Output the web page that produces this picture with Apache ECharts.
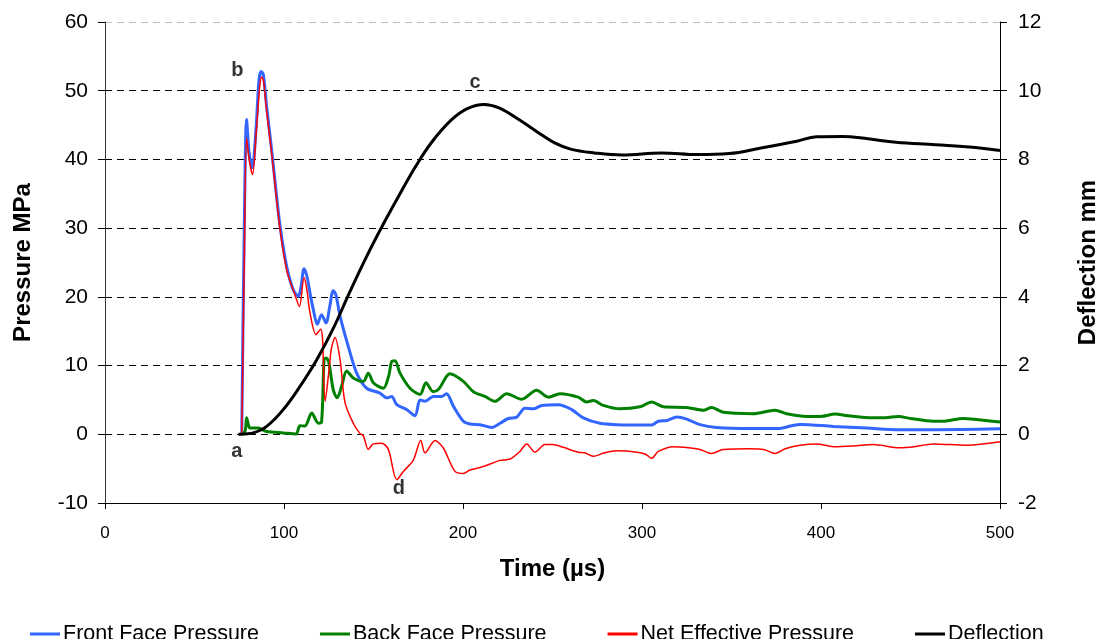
<!DOCTYPE html>
<html>
<head>
<meta charset="utf-8">
<script src="https://cdn.jsdelivr.net/npm/echarts@6/dist/echarts.min.js"></script>
<style>
  html, body { margin: 0; padding: 0; background: #fff; overflow: hidden; }
  #chart { width: 1103px; height: 639px; }
</style>
</head>
<body>
<div id="chart"></div>
<script>
// Time axis (µs) and readings for each trace
const frontTime = [76.4, 77.8, 79.1, 80.5, 82.3, 84.5, 86, 87.2, 88.5, 90.3, 93.1, 95.5, 97.8, 101.5, 105.2, 108, 109.5, 111.2, 112.8, 114.5, 116.5, 118.6, 121, 123.5, 125.5, 127.5, 129, 131.3, 135.9, 140.6, 146.2, 153.6, 157.4, 160.2, 163, 168.5, 173.2, 176, 178.8, 183.4, 188, 190.8, 194.6, 200.2, 203.9, 209.5, 216, 220.7, 225.3, 230, 234.6, 239.3, 244, 253.3, 260.7, 267.2, 276.5, 285.8, 305.4, 309.1, 314, 319.4, 325, 332.4, 341.7, 360.3, 377, 383, 388.3, 406.9, 425.5, 444, 462.6, 500];
const frontPressure = [0, 30, 45.8, 41, 38.8, 45, 51.5, 52.8, 52.3, 47.7, 41.4, 35.5, 30.3, 24.4, 21, 20.1, 21.5, 24.1, 23, 20.6, 18, 16, 17.4, 16.2, 18.5, 20.9, 20.3, 17.2, 12.8, 8.9, 6.7, 6.0, 5.3, 5.5, 4.3, 3.6, 2.7, 5.0, 4.8, 5.5, 5.5, 5.9, 4.1, 1.9, 1.5, 1.4, 1.0, 1.6, 2.3, 2.5, 3.8, 3.7, 4.2, 4.3, 3.6, 2.4, 1.6, 1.4, 1.35, 1.9, 2.0, 2.5, 2.2, 1.4, 1.0, 0.86, 0.86, 1.2, 1.44, 1.15, 0.9, 0.67, 0.67, 0.8];

const backTime = [76.4, 78.3, 79.1, 80, 81, 85.6, 90.3, 99.6, 106.7, 108.9, 111.7, 115.5, 119.2, 121, 122.4, 123.5, 125, 127.5, 129.7, 132.2, 135, 138.7, 144.3, 147.1, 149.9, 155.5, 158.5, 160.2, 162, 164.8, 170.4, 176, 179.3, 183.4, 186.5, 192.7, 200.2, 205.8, 212.3, 217.9, 224.4, 232.8, 241.1, 247.7, 254.2, 264.4, 269, 272.8, 278.4, 287.7, 298.9, 305.4, 311.9, 324.9, 334.2, 338.9, 345.4, 362.2, 374.3, 380.8, 392, 400, 407.8, 415, 429.2, 436, 443.2, 450, 462.7, 470, 479.5, 488, 500];
const backPressure = [0, 0.5, 2.4, 1.5, 0.9, 0.9, 0.4, 0.2, 0.05, 1.25, 1.2, 3.1, 1.6, 1.8, 10.9, 11.1, 10.5, 6.5, 5.3, 7, 9.2, 8.2, 7.7, 8.9, 7.5, 6.7, 8.5, 10.6, 10.7, 8.9, 6.7, 5.8, 7.5, 6.2, 6.6, 8.8, 7.7, 6.2, 5.5, 4.8, 5.9, 5.1, 6.4, 5.4, 5.9, 5.4, 4.7, 4.9, 4.2, 3.7, 4.0, 4.7, 4.0, 3.9, 3.5, 3.9, 3.2, 3.0, 3.5, 3.0, 2.6, 2.6, 2.95, 2.7, 2.4, 2.4, 2.6, 2.3, 1.9, 1.95, 2.3, 2.1, 1.8];

const netTime = [76.4, 77.8, 79.1, 80.5, 82.4, 84.5, 86.5, 87.5, 88.5, 90.3, 93.1, 97.8, 101.5, 106.1, 108.6, 111.2, 112.8, 114.5, 117.9, 120.5, 121.5, 123, 125, 126.5, 128.5, 131.3, 134.1, 138.7, 142.5, 144.3, 147.1, 149.9, 154.5, 158.3, 163, 166.7, 172.2, 176.4, 178.8, 184.4, 189, 195.5, 200.2, 203.9, 211.3, 220.7, 226.3, 231.8, 235.6, 240.2, 245.8, 250, 256, 264.4, 268, 272.8, 279, 285.8, 297, 302, 305.4, 309.1, 317.5, 324, 332.4, 338.9, 345.4, 360.3, 368, 374.3, 380, 388.3, 397.6, 406.9, 418, 429.2, 444, 452, 462.7, 481.5, 500];
const netPressure = [0, 25, 43.1, 40, 37.8, 44, 50.8, 52, 51.5, 47, 40.9, 29.8, 23.9, 20.3, 18.6, 22.8, 21, 17.7, 14.5, 15.3, 14, 4.8, 9, 12.5, 14.1, 10.9, 4.6, 1.6, 0.1, -0.2, -2.2, -1.4, -1.3, -2.2, -6.6, -5.4, -3.8, -0.9, -2.7, -0.9, -2.0, -5.4, -5.7, -5.2, -4.7, -3.8, -3.6, -2.5, -1.4, -2.6, -1.5, -1.5, -1.9, -2.6, -2.7, -3.2, -2.7, -2.4, -2.6, -2.9, -3.5, -2.5, -1.8, -1.9, -2.2, -2.8, -2.2, -2.1, -2.2, -2.8, -2.1, -1.6, -1.4, -1.8, -1.7, -1.5, -1.95, -1.8, -1.4, -1.6, -1.1];

const deflTime = [74.5, 78, 82.8, 90.3, 99.6, 108.9, 118.3, 127.6, 136.9, 146.2, 155.5, 164.8, 173.6, 182.5, 193.5, 202.4, 211.7, 220.1, 231.2, 242.3, 251.2, 260.1, 273.4, 288.8, 311, 331, 348.7, 366.4, 386.4, 397.5, 411.9, 426.3, 441.8, 464, 486.2, 500];
const deflection = [0, 0.01, 0.04, 0.23, 0.72, 1.39, 2.17, 3.09, 4.16, 5.18, 6.12, 7.0, 7.8, 8.5, 9.15, 9.48, 9.6, 9.5, 9.16, 8.77, 8.48, 8.3, 8.19, 8.13, 8.19, 8.14, 8.17, 8.33, 8.53, 8.66, 8.67, 8.6, 8.5, 8.43, 8.35, 8.26];

// Point annotations (time, pressure)
const noteText = ['a', 'b', 'c', 'd'];
const noteTime = [73.7, 74, 206.7, 164.2];
const notePressure = [-2.5, 52.9, 51.2, -7.9];

const seriesNames = ['Front Face Pressure', 'Back Face Pressure', 'Net Effective Pressure', 'Deflection'];

const zip = (xs, ys) => xs.map((x, i) => [x, ys[i]]);
const FONT = '"Liberation Sans", Arial, sans-serif';

const chart = echarts.init(document.getElementById('chart'), null, { renderer: 'canvas' });

// dashed grid: black for -10..50, pale grey at the top (60)
const gridColors = ['#000', '#000', '#000', '#000', '#000', '#000', '#000', '#bdbdbd'];

chart.setOption({
  animation: false,
  backgroundColor: '#fff',
  textStyle: { fontFamily: FONT, color: '#000' },
  grid: { left: 105, right: 103, top: 22, bottom: 136, containLabel: false, outerBoundsMode: 'none' },
  legend: {
    top: 618,
    left: 25,
    itemWidth: 30,
    itemHeight: 3,
    itemGap: 61,
    textStyle: { fontFamily: FONT, fontSize: 21.5, color: '#000', padding: [0, 0, 0, -2] },
    data: [
      { name: seriesNames[0], icon: 'rect', itemStyle: { color: '#3366ff' } },
      { name: seriesNames[1], icon: 'rect', itemStyle: { color: '#008000' } },
      { name: seriesNames[2], icon: 'rect', itemStyle: { color: '#ff0000' } },
      { name: seriesNames[3], icon: 'rect', itemStyle: { color: '#000' } }
    ]
  },
  xAxis: {
    type: 'value',
    min: 0, max: 500, interval: 100,
    name: 'Time (\u00b5s)',
    nameLocation: 'middle',
    nameGap: 54,
    nameTextStyle: { fontFamily: FONT, fontSize: 24, fontWeight: 'bold', color: '#000' },
    axisLine: { show: true, onZero: false, lineStyle: { color: '#000', width: 1 } },
    axisTick: { show: true, inside: false, length: 6, lineStyle: { color: '#000' } },
    axisLabel: { fontFamily: FONT, fontSize: 17, color: '#000', margin: 22 },
    splitLine: { show: false }
  },
  yAxis: [
    {
      type: 'value',
      position: 'left',
      min: -10, max: 60, interval: 10,
      name: 'Pressure MPa',
      nameLocation: 'middle',
      nameRotate: 90,
      nameGap: 70,
      nameTextStyle: { fontFamily: FONT, fontSize: 24, fontWeight: 'bold', color: '#000' },
      axisLine: { show: true, onZero: false, lineStyle: { color: '#333', width: 1 } },
      axisTick: { show: true, inside: false, length: 7, lineStyle: { color: '#000' } },
      axisLabel: { fontFamily: FONT, fontSize: 21, color: '#000', margin: 17 },
      splitLine: { show: true, lineStyle: { color: gridColors, type: [7, 5], width: 1 } }
    },
    {
      type: 'value',
      position: 'right',
      min: -2, max: 12, interval: 2,
      name: 'Deflection mm',
      nameLocation: 'middle',
      nameRotate: 90,
      nameGap: 76,
      nameTextStyle: { fontFamily: FONT, fontSize: 24, fontWeight: 'bold', color: '#000' },
      axisLine: { show: true, onZero: false, lineStyle: { color: '#000', width: 1 } },
      axisTick: { show: true, inside: false, length: 7, lineStyle: { color: '#000' } },
      axisLabel: { fontFamily: FONT, fontSize: 21, color: '#000', margin: 18 },
      splitLine: { show: false }
    }
  ],
  series: [
    {
      name: seriesNames[0], type: 'line', yAxisIndex: 0,
      data: zip(frontTime, frontPressure),
      showSymbol: false, smooth: 0.3,
      lineStyle: { color: '#3366ff', width: 3 }, itemStyle: { color: '#3366ff' }, z: 2
    },
    {
      name: seriesNames[1], type: 'line', yAxisIndex: 0,
      data: zip(backTime, backPressure),
      showSymbol: false, smooth: 0.3,
      lineStyle: { color: '#008000', width: 3 }, itemStyle: { color: '#008000' }, z: 3
    },
    {
      name: seriesNames[2], type: 'line', yAxisIndex: 0,
      data: zip(netTime, netPressure),
      showSymbol: false, smooth: 0.3,
      lineStyle: { color: '#ff0000', width: 1.5 }, itemStyle: { color: '#ff0000' }, z: 4
    },
    {
      name: seriesNames[3], type: 'line', yAxisIndex: 1,
      data: zip(deflTime, deflection),
      showSymbol: false, smooth: 0.4,
      lineStyle: { color: '#000', width: 3 }, itemStyle: { color: '#000' }, z: 5
    },
    {
      name: 'notes', type: 'scatter', yAxisIndex: 0,
      data: noteTime.map((t, i) => ({ value: [t, notePressure[i]], label: { formatter: noteText[i] } })),
      symbolSize: 0.1,
      itemStyle: { color: 'transparent' },
      label: {
        show: true, position: 'inside',
        fontFamily: FONT, fontSize: 20, fontWeight: 'bold', color: '#000'
      },
      silent: true, z: 6
    }
  ]
});
</script>
</body>
</html>
